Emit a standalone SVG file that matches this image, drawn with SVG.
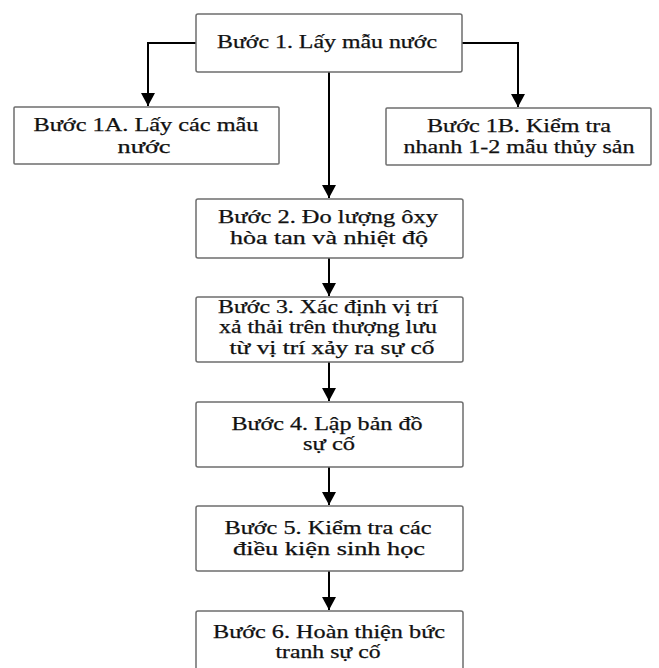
<svg xmlns="http://www.w3.org/2000/svg" width="659" height="668" viewBox="0 0 659 668">
<style>
.box{fill:#fff;stroke:#6e6e6e;stroke-width:1.5}
.t{font-family:"Liberation Serif","Times New Roman",serif;font-size:18px;fill:#111;stroke:#111;stroke-width:0.25;text-anchor:middle}
.c{fill:none;stroke:#000;stroke-width:2}
</style>
<defs>
<marker id="ah" markerUnits="userSpaceOnUse" markerWidth="14" markerHeight="14" refX="13" refY="7" orient="auto">
<path d="M0,0 L13,7 L0,14 z" fill="#000"/>
</marker>
</defs>
<rect width="659" height="668" fill="#fff"/>
<g id="connectors">
<path class="c" d="M196,43 H148 V106" marker-end="url(#ah)"/>
<path class="c" d="M462,43 H518 V107" marker-end="url(#ah)"/>
<path class="c" d="M329,72 V198" marker-end="url(#ah)"/>
<path class="c" d="M329,258 V296" marker-end="url(#ah)"/>
<path class="c" d="M329,362 V401" marker-end="url(#ah)"/>
<path class="c" d="M329,467 V505" marker-end="url(#ah)"/>
<path class="c" d="M329,571 V610" marker-end="url(#ah)"/>
</g>
<g id="step1">
<rect class="box" x="196" y="14" width="266" height="58" rx="2"/>
<text class="t" x="327" y="48" textLength="220" lengthAdjust="spacingAndGlyphs">Bước 1. Lấy mẫu nước</text>
</g>
<g id="step1a">
<rect class="box" x="14" y="107" width="265" height="57" rx="1"/>
<text class="t" x="146" y="131" textLength="225" lengthAdjust="spacingAndGlyphs">Bước 1A. Lấy các mẫu</text>
<text class="t" x="144" y="153" textLength="53" lengthAdjust="spacingAndGlyphs">nước</text>
</g>
<g id="step1b">
<rect class="box" x="386" y="108" width="265" height="57" rx="1"/>
<text class="t" x="519" y="132" textLength="184" lengthAdjust="spacingAndGlyphs">Bước 1B. Kiểm tra</text>
<text class="t" x="519" y="153" textLength="231" lengthAdjust="spacingAndGlyphs">nhanh 1-2 mẫu thủy sản</text>
</g>
<g id="step2">
<rect class="box" x="196" y="199" width="267" height="59" rx="2"/>
<text class="t" x="328" y="223" textLength="220" lengthAdjust="spacingAndGlyphs">Bước 2. Đo lượng ôxy</text>
<text class="t" x="329" y="244" textLength="198" lengthAdjust="spacingAndGlyphs">hòa tan và nhiệt độ</text>
</g>
<g id="step3">
<rect class="box" x="196" y="297" width="267" height="65" rx="2"/>
<text class="t" x="328" y="313" textLength="220" lengthAdjust="spacingAndGlyphs">Bước 3. Xác định vị trí</text>
<text class="t" x="328" y="333" textLength="218" lengthAdjust="spacingAndGlyphs">xả thải trên thượng lưu</text>
<text class="t" x="332" y="354" textLength="205" lengthAdjust="spacingAndGlyphs">từ vị trí xảy ra sự cố</text>
</g>
<g id="step4">
<rect class="box" x="196" y="402" width="267" height="65" rx="2"/>
<text class="t" x="327" y="430" textLength="191" lengthAdjust="spacingAndGlyphs">Bước 4. Lập bản đồ</text>
<text class="t" x="329" y="450" textLength="52" lengthAdjust="spacingAndGlyphs">sự cố</text>
</g>
<g id="step5">
<rect class="box" x="196" y="506" width="267" height="65" rx="2"/>
<text class="t" x="328" y="534" textLength="207" lengthAdjust="spacingAndGlyphs">Bước 5. Kiểm tra các</text>
<text class="t" x="329" y="555" textLength="192" lengthAdjust="spacingAndGlyphs">điều kiện sinh học</text>
</g>
<g id="step6">
<rect class="box" x="196" y="611" width="267" height="70" rx="2"/>
<text class="t" x="329" y="638" textLength="232" lengthAdjust="spacingAndGlyphs">Bước 6. Hoàn thiện bức</text>
<text class="t" x="328" y="658" textLength="105" lengthAdjust="spacingAndGlyphs">tranh sự cố</text>
</g>
</svg>
